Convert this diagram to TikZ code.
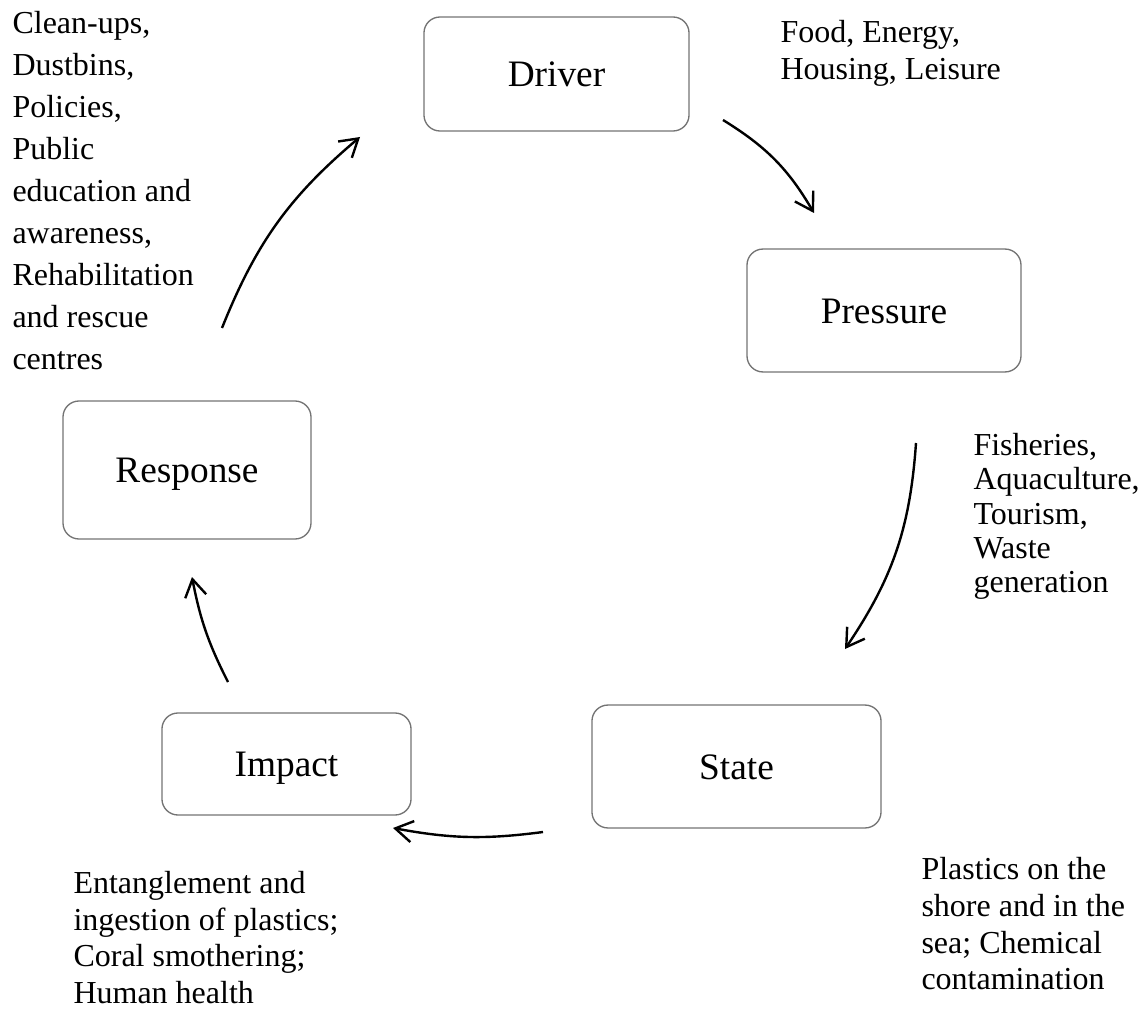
\documentclass[tikz,border=0pt]{standalone}
\usepackage{fontspec}
\setmainfont{Liberation Serif}
\usetikzlibrary{arrows.meta,calc,positioning}

\begin{document}
\begin{tikzpicture}[
    x=0.375pt, y=0.375pt,
    stage/.style={draw=black!55, line width=0.5pt, rounded corners=6pt,
        inner sep=0pt, text height=9.5pt, text depth=0pt,
        font=\fontsize{14}{16}\selectfont},
    info/.style={anchor=north west, inner sep=0pt, align=left},
    flow/.style={-{Straight Barb[length=6.5pt,width=8pt]}, line width=0.9pt}
    ]
\useasboundingbox (0,0) rectangle (1147,-1009);
% the five stages
\node[stage, minimum width=99.4pt, minimum height=42.75pt] (drv) at (556.5,-74) {Driver};
\node[stage, minimum width=102.75pt, minimum height=46.1pt] (prs) at (884,-310.5) {Pressure};
\node[stage, minimum width=108.4pt, minimum height=46.1pt] (sta) at (736.5,-766.5) {State};
\node[stage, minimum width=93.4pt, minimum height=38.25pt] (imp) at (286.5,-764) {Impact};
\node[stage, minimum width=93pt, minimum height=51.75pt] (rsp) at (187,-470) {Response};
% notes
\node[info, font=\fontsize{12}{15.75}\selectfont] (rsptxt) at (12,-11)
   {Clean-ups,\\Dustbins,\\Policies,\\Public\\education and\\awareness,\\Rehabilitation\\and rescue\\centres};
\node[info, font=\fontsize{12}{13.75}\selectfont] (drvtxt) at (780,-20)
   {Food, Energy,\\Housing, Leisure};
\node[info, font=\fontsize{12}{12.8}\selectfont] (prstxt) at (973,-433)
   {Fisheries,\\Aquaculture,\\Tourism,\\Waste\\generation};
\node[info, font=\fontsize{12}{13.75}\selectfont] (statxt) at (921,-857)
   {Plastics on the\\shore and in the\\sea; Chemical\\contamination};
\node[info, font=\fontsize{12}{13.7}\selectfont] (imptxt) at (73,-871)
   {Entanglement and\\ingestion of plastics;\\Coral smothering;\\Human health};
% arrow ends
\coordinate (r2d-s) at (222,-328);
\coordinate (r2d-e) at (360,-137);
\coordinate (d2p-s) at (723,-120);
\coordinate (d2p-e) at (814,-213);
\coordinate (p2s-s) at (916,-443);
\coordinate (p2s-e) at (845,-649);
\coordinate (s2i-s) at (543,-832);
\coordinate (s2i-e) at (393,-828);
\coordinate (i2r-s) at (228,-682);
\coordinate (i2r-e) at (192,-577);
\draw[flow] (r2d-s) to[bend left=14] (r2d-e);
\draw[flow] (d2p-s) to[bend left=14] (d2p-e);
\draw[flow] (p2s-s) to[bend left=15] (p2s-e);
\draw[flow] (s2i-s) to[bend left=9] (s2i-e);
\draw[flow] (i2r-s) to[bend left=8] (i2r-e);
\end{tikzpicture}
\end{document}
